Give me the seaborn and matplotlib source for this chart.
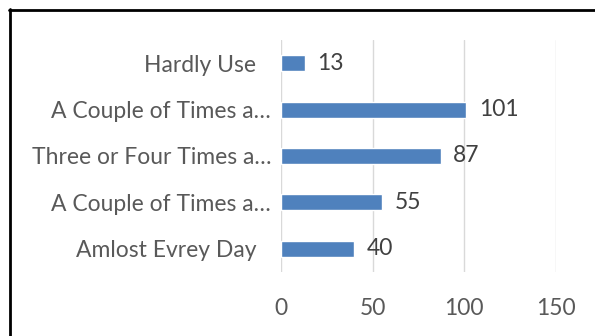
import matplotlib
matplotlib.use("Agg")
import matplotlib.pyplot as plt
from matplotlib.lines import Line2D
from matplotlib.transforms import ScaledTranslation
import seaborn as sns
import pandas as pd

categories = [
    "Hardly Use",
    "A Couple of Times a…",
    "Three or Four Times a…",
    "A Couple of Times a…",
    "Amlost Evrey Day",
]
values = [13, 101, 87, 55, 40]
x_ticks = [0, 50, 100, 150]

sns.set_theme(style="white")
plt.rcParams["font.family"] = ["Lato", "DejaVu Sans"]

# Duplicate labels get unique keys so each row keeps its own bar
keys = [f"{i}" for i in range(len(categories))]
df = pd.DataFrame({"key": keys, "value": values})

W, H = 595, 336
fig = plt.figure(figsize=(W / 100, H / 100), dpi=100)
ax = fig.add_axes([281 / W, 1 - 272 / H, (556 - 281) / W, (272 - 40) / H])

sns.barplot(data=df, y="key", x="value", order=keys, orient="h",
            color="#4F81BD", width=0.345, saturation=1, ax=ax)

FS = 16.5
ax.set_xlim(0, 150)
ax.set_ylim(4.5, -0.5)
ax.set_xticks(x_ticks)
ax.set_yticks(range(len(categories)))
ax.set_yticklabels(categories)
ax.set_xlabel("")
ax.set_ylabel("")
ax.grid(axis="x", color="#D9D9D9", linewidth=1)
ax.set_axisbelow(True)
for s in ax.spines.values():
    s.set_visible(False)
ax.tick_params(axis="y", length=0, pad=18, labelsize=FS, labelcolor="#595959")
ax.tick_params(axis="x", length=0, pad=19, labelsize=FS, labelcolor="#595959")

# Truncated category names run a little closer to the bars
for lab in ax.get_yticklabels():
    if lab.get_text().endswith("…"):
        lab.set_transform(lab.get_transform()
                          + ScaledTranslation(15 / 100, 0, fig.dpi_scale_trans))

for c in ax.containers:
    ax.bar_label(c, labels=[str(v) for v in values], padding=9,
                 fontsize=FS, color="#404040")

# Outer chart frame
fig.add_artist(Line2D([10 / W, 10 / W], [0, 1 - 9 / H], transform=fig.transFigure,
                      color="black", linewidth=2))
fig.add_artist(Line2D([9 / W, 1], [1 - 9.5 / H, 1 - 9.5 / H], transform=fig.transFigure,
                      color="black", linewidth=2))

fig.savefig("out.png", dpi=100)
